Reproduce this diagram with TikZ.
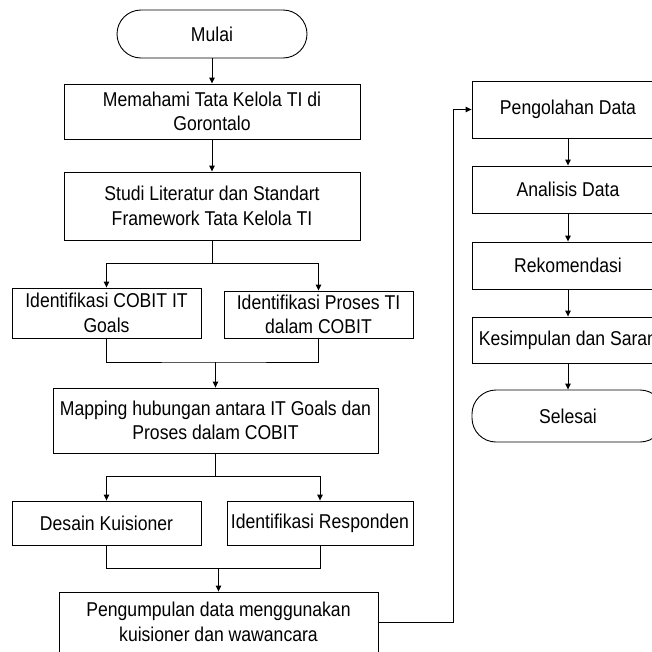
\documentclass[tikz,border=0pt]{standalone}
\usepackage{fontspec}
\setmainfont[FakeStretch=0.88]{Liberation Sans}
\usetikzlibrary{arrows.meta}
\begin{document}
\begin{tikzpicture}[x=1pt,y=-1pt,>={Triangle[length=6pt,width=5.5pt]},
  box/.style={draw,line width=0.9pt,inner sep=0pt,align=center,font=\fontsize{20}{24.5}\selectfont},
  term/.style={box,rounded corners=24pt},
  line/.style={line width=0.9pt}]
\useasboundingbox (0,0) rectangle (652,651);
\clip (0,0) rectangle (652,651);
% The left column
\node[term,minimum width=190pt,minimum height=48pt] (mulai) at (212,34) {Mulai};
\node[box,minimum width=296pt,minimum height=55pt] (memahami) at (212,111.5) {Memahami Tata Kelola TI di\\Gorontalo};
\node[box,minimum width=296pt,minimum height=68pt] (studi) at (212,206) {Studi Literatur dan Standart\\Framework Tata Kelola TI};
\node[box,minimum width=189pt,minimum height=50pt] (goals) at (106.5,313) {Identifikasi COBIT IT\\Goals};
\node[box,minimum width=189pt,minimum height=47pt] (proses) at (318.5,314.5) {Identifikasi Proses TI\\dalam COBIT};
\node[box,minimum width=325pt,minimum height=65pt] (mapping) at (215.5,420.5) {Mapping hubungan antara IT Goals dan\\Proses dalam COBIT};
\node[box,minimum width=189pt,minimum height=44pt] (desain) at (106.5,523) {Desain Kuisioner};
\node[box,minimum width=186pt,minimum height=44pt] (responden) at (320,523) {Identifikasi Responden};
\node[box,minimum width=319pt,minimum height=60pt] (kumpul) at (218.5,622) {Pengumpulan data menggunakan\\kuisioner dan wawancara};

% The right column
\node[box,minimum width=192pt,minimum height=57pt] (olah) at (568,109.5) {Pengolahan Data};
\node[box,minimum width=192pt,minimum height=47pt] (analisis) at (568,189.5) {Analisis Data};
\node[box,minimum width=192pt,minimum height=47pt] (rekom) at (568,265.5) {Rekomendasi};
\node[box,minimum width=192pt,minimum height=46pt] (simpul) at (568,340) {Kesimpulan dan Saran};
\node[term,minimum width=192pt,minimum height=52pt] (selesai) at (568,416) {Selesai};

% The split and join points
\coordinate (split1) at (212,263);
\coordinate (join1) at (215.5,362);
\coordinate (split2) at (215.5,476);
\coordinate (join2) at (218.5,568);
\coordinate (turn) at (453,622);

% The arrows
\draw[line,->] (mulai) -- (memahami);
\draw[line,->] (memahami) -- (studi);
\draw[line] (studi) -- (split1);
\draw[line,->] (split1) -| (goals);
\draw[line,->] (split1) -| (proses);
\draw[line] (goals) |- (join1) -| (proses);
\draw[line,->] (join1) -- (mapping);
\draw[line] (mapping) -- (split2);
\draw[line,->] (split2) -| (desain);
\draw[line,->] (split2) -| (responden);
\draw[line] (desain) |- (join2) -| (responden);
\draw[line,->] (join2) -- (kumpul);
\draw[line,->] (kumpul.east) -- (turn) |- (olah.west);
\foreach \a/\b in {olah/analisis,analisis/rekom,rekom/simpul,simpul/selesai}
{
	\draw[line,->] (\a) -- (\b);
}
\end{tikzpicture}
\end{document}
